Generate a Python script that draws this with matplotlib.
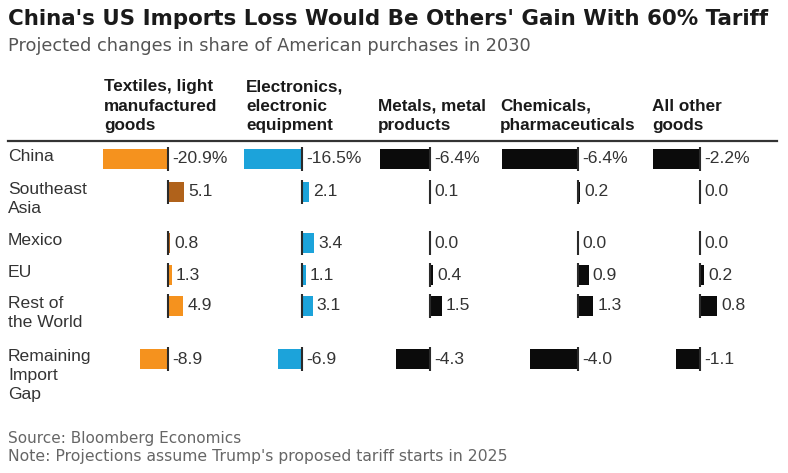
import matplotlib
matplotlib.use("Agg")
import matplotlib.pyplot as plt
from matplotlib.lines import Line2D

# ---------------- data ----------------
regions = ["China", "Southeast\nAsia", "Mexico", "EU", "Rest of\nthe World",
           "Remaining\nImport\nGap"]
categories = ["Textiles, light\nmanufactured\ngoods",
              "Electronics,\nelectronic\nequipment",
              "Metals, metal\nproducts",
              "Chemicals,\npharmaceuticals",
              "All other\ngoods"]
textiles = [-20.9, 5.1, 0.8, 1.3, 4.9, -8.9]
electronics = [-16.5, 2.1, 3.4, 1.1, 3.1, -6.9]
metals = [-6.4, 0.1, 0.0, 0.4, 1.5, -4.3]
chemicals = [-6.4, 0.2, 0.0, 0.9, 1.3, -4.0]
other_goods = [-2.2, 0.0, 0.0, 0.2, 0.8, -1.1]
series = [textiles, electronics, metals, chemicals, other_goods]

title = "China's US Imports Loss Would Be Others' Gain With 60% Tariff"
subtitle = "Projected changes in share of American purchases in 2030"
source = "Source: Bloomberg Economics"
note = "Note: Projections assume Trump's proposed tariff starts in 2025"

# ---------------- layout / style ----------------
W, H = 788, 473
ORANGE, BROWN, BLUE, BLACK = "#F5921E", "#B0621B", "#1CA3DA", "#0b0b0b"
col_colors = [
    [ORANGE, BROWN, BROWN, ORANGE, ORANGE, ORANGE],
    [BLUE] * 6,
    [BLACK] * 6,
    [BLACK] * 6,
    [BLACK] * 6,
]
row_y = [159, 192, 243, 275, 306, 359]          # pixel rows
col_left = [100, 240, 376, 498, 650]
col_right = [240, 376, 498, 650, 780]
col_zero = [168, 302, 430, 578, 700]
col_scale = [3.1, 3.5, 7.8, 11.9, 21.5]          # pixels per unit
header_x = [104, 246, 378, 500, 652]
top_px, bot_px = 141, 412
TXT = "#333333"

fig = plt.figure(figsize=(W / 100, H / 100), dpi=100)
fig.patch.set_facecolor("white")
renderer = fig.canvas.get_renderer()


def fx(x):
    return x / W


def fy(y):
    return 1 - y / H


def fit_text(x, y, s, width, **kw):
    t = fig.text(fx(x), fy(y), s, **kw)
    bb = t.get_window_extent(renderer)
    t.set_fontsize(t.get_fontsize() * width / bb.width)
    return t


fit_text(8, 19, title, 762, fontsize=15, fontweight="bold", color="#1a1a1a",
         family="DejaVu Sans", va="center", ha="left")
fit_text(8, 46, subtitle, 520, fontsize=13, color="#555555",
         family="DejaVu Sans", va="center", ha="left")
fit_text(8, 438, source, 232, fontsize=10, color="#666666",
         family="DejaVu Sans", va="center", ha="left")
fit_text(8, 456, note, 497, fontsize=10, color="#666666",
         family="DejaVu Sans", va="center", ha="left")

# header rule
fig.add_artist(Line2D([fx(8), fx(777)], [fy(141), fy(141)], color="#333333", lw=1.6))

# column headers
for cat, hx in zip(categories, header_x):
    fig.text(fx(hx), fy(133), cat, fontsize=12.3, fontweight="bold", color="#1a1a1a",
             family="Liberation Sans", va="bottom", ha="left", linespacing=1.36)

# row labels
for reg, y in zip(regions, row_y):
    fig.text(fx(8), fy(y - 10), reg, fontsize=12.6, color=TXT,
             family="Liberation Sans", va="top", ha="left", linespacing=1.32)

# bar panels
for i, vals in enumerate(series):
    L, R, z, s = col_left[i], col_right[i], col_zero[i], col_scale[i]
    ax = fig.add_axes([fx(L), fy(bot_px), (R - L) / W, (bot_px - top_px) / H])
    ax.set_xlim((L - z) / s, (R - z) / s)
    ax.set_ylim(bot_px, top_px)
    ax.axis("off")
    ax.barh(row_y, vals, height=20, color=col_colors[i], left=0)
    for y in row_y:
        ax.plot([0, 0], [y - 12, y + 12], color="#2a2a2a", lw=1.5,
                solid_capstyle="butt")
    for j, (v, y) in enumerate(zip(vals, row_y)):
        lab = f"{v:.1f}" + ("%" if j == 0 else "")
        ax.annotate(lab, xy=(max(v, 0), y), xytext=(4, 0), textcoords="offset pixels",
                    va="center", ha="left", fontsize=12.6, color=TXT,
                    family="Liberation Sans")

fig.savefig("out.png", dpi=100, facecolor="white")
